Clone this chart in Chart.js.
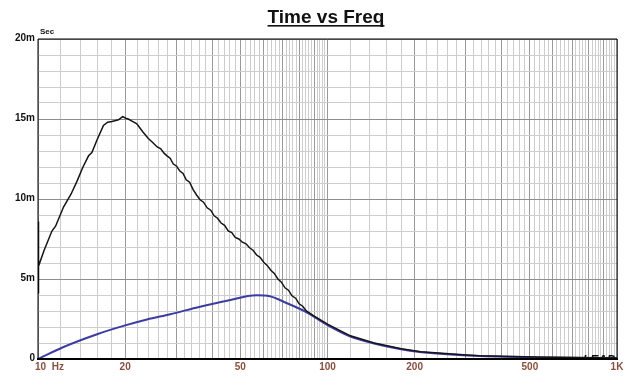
<!DOCTYPE html>
<html>
<head>
<meta charset="utf-8">
<script src="https://cdn.jsdelivr.net/npm/chart.js@4"></script>
<style>
  html, body { margin: 0; padding: 0; background: #fff; }
  #wrap { width: 644px; height: 387px; }
</style>
</head>
<body>
<div id="wrap"><canvas id="grafico" width="644" height="387"></canvas></div>
<script>
// time in ms (labels are "m" = milliseconds)
const freqBlack = [10, 10.02, 10.06, 10.5, 11.17, 11.5, 12.25, 13.0, 13.63, 14.3, 14.95, 15.35, 16.0, 16.83, 17.4, 18.0, 18.97, 19.6, 20.1, 20.5, 21.2, 21.95, 23.0, 24.0,
  25, 25.8, 26.5, 27.3, 27.9, 28.6, 29.3, 30.1, 30.9, 31.7, 32.5, 33.4, 34.3, 35.3, 36.3, 37.3, 38.4, 39.5, 40.6, 41.7, 42.9, 44.1, 45.4, 46.7, 48.0, 49.4, 50.8, 52.3, 53.8, 55.3, 56.9, 58.5,
  60.2, 61.9, 63.7, 65.5, 67.4, 69.3, 71.3, 73.3, 75.4, 77.6, 79.8, 82.1, 84.5, 90, 100, 120, 145, 180, 210, 330, 530, 1000];
const timeBlack = [8.6, 4.1, 5.8, 6.8, 8.0, 8.3, 9.5, 10.3, 11.1, 12.0, 12.7, 12.9, 13.7, 14.6, 14.8, 14.85, 14.95, 15.15, 15.05, 15.0, 14.85, 14.7, 14.2, 13.8,
  13.5, 13.25, 13.15, 12.85, 12.7, 12.55, 12.2, 12.05, 11.75, 11.6, 11.2, 11.05, 10.6, 10.25, 9.95, 9.8, 9.45, 9.3, 8.95, 8.8, 8.5, 8.35, 8.0, 7.9, 7.6, 7.5, 7.3, 7.2, 6.95, 6.8, 6.5, 6.35,
  6.05, 5.85, 5.55, 5.35, 5.0, 4.8, 4.45, 4.3, 3.95, 3.8, 3.45, 3.3, 3.0, 2.68, 2.18, 1.45, 1.0, 0.64, 0.46, 0.21, 0.12, 0.06];

const freqBlue = [10, 12.25, 16, 20, 23.8, 28.6, 36.3, 44.9, 56.9, 63.2, 72.2, 84.7, 99.3, 119.4, 143.6, 177.6, 208, 326, 526, 1000];
const timeBlue = [0, 0.75, 1.55, 2.1, 2.47, 2.8, 3.27, 3.64, 3.98, 3.92, 3.5, 2.92, 2.15, 1.42, 0.98, 0.62, 0.44, 0.2, 0.1, 0.04];

const xTickValues = [10, 20, 50, 100, 200, 500, 1000];
const xTickLabels = ["10  Hz", "20", "50", "100", "200", "500", "1K"];
const yTickValues = [0, 5, 10, 15, 20];
const yTickLabels = ["0", "5m", "10m", "15m", "20m"];

const FONT = "'Liberation Sans Narrow', 'Liberation Sans', Arial, sans-serif";

// grid positions: every 2 Hz up to 100, every 20 Hz up to 1K
const gradeX = [];
for (let f = 10; f <= 100; f += 2) gradeX.push(f);
for (let f = 120; f <= 1000; f += 20) gradeX.push(f);

function ehMaior(v) {
  const dec = Math.pow(10, Math.floor(Math.log10(v) + 1e-9));
  return Math.abs(v / dec - Math.round(v / dec)) < 1e-6;
}

const pontos = (xs, ys) => xs.map((x, i) => ({ x: x, y: ys[i] }));

const extras = {
  id: "extras",
  beforeDatasetsDraw(chart) {
    const { ctx, chartArea: a } = chart;
    // LEAP logo, cut off by the axis
    ctx.save();
    ctx.beginPath();
    ctx.rect(a.left, a.top, a.right - a.left, a.bottom - a.top);
    ctx.clip();
    ctx.fillStyle = "#111";
    ctx.font = "italic bold 12px 'Liberation Sans', Arial, sans-serif";
    ctx.textAlign = "right";
    ctx.textBaseline = "alphabetic";
    ctx.fillText("LEAP", a.right - 2, a.bottom + 5);
    ctx.restore();
  },
  afterDraw(chart) {
    const { ctx, chartArea: a, scales } = chart;
    ctx.save();
    // frame
    ctx.strokeStyle = "#000";
    ctx.lineWidth = 1;
    ctx.beginPath();
    ctx.moveTo(a.left, a.bottom);
    ctx.lineTo(a.left, a.top);
    ctx.lineTo(a.right, a.top);
    ctx.lineTo(a.right, a.bottom);
    ctx.stroke();
    ctx.lineWidth = 2;
    ctx.beginPath();
    ctx.moveTo(a.left - 1, a.bottom);
    ctx.lineTo(a.right + 1, a.bottom);
    ctx.stroke();

    // title
    ctx.fillStyle = "#111";
    ctx.font = "bold 19px 'Liberation Sans', Arial, sans-serif";
    ctx.textAlign = "center";
    ctx.textBaseline = "alphabetic";
    const titulo = "Time vs Freq";
    ctx.fillText(titulo, 326, 23);
    const w = ctx.measureText(titulo).width;
    ctx.fillRect(326 - w / 2, 25, w, 1.6);

    // "Sec"
    ctx.font = "bold 8px " + FONT;
    ctx.textAlign = "left";
    ctx.fillText("Sec", a.left + 2, 34);

    // y labels
    ctx.font = "bold 10px " + FONT;
    ctx.textAlign = "right";
    ctx.textBaseline = "middle";
    yTickValues.forEach((v, i) => {
      ctx.fillText(yTickLabels[i], a.left - 3, scales.y.getPixelForValue(v) - 1);
    });

    // x labels
    ctx.fillStyle = "#8a4e3e";
    ctx.textBaseline = "top";
    xTickValues.forEach((v, i) => {
      const px = scales.x.getPixelForValue(v);
      if (i === 0) {
        ctx.textAlign = "left";
        ctx.fillText(xTickLabels[i], px - 3, a.bottom + 3);
      } else {
        ctx.textAlign = "center";
        ctx.fillText(xTickLabels[i], px, a.bottom + 3);
      }
    });
    ctx.restore();
  },
};

const ctx = document.getElementById("grafico").getContext("2d");

new Chart(ctx, {
  type: "line",
  data: {
    datasets: [
      {
        label: "Group delay",
        data: pontos(freqBlack, timeBlack),
        borderColor: "#151515",
        borderWidth: 1.5,
        pointRadius: 0,
        tension: 0,
        fill: false,
      },
      {
        label: "Min phase",
        data: pontos(freqBlue, timeBlue),
        borderColor: "#3c3ca4",
        borderWidth: 2,
        pointRadius: 0,
        cubicInterpolationMode: "monotone",
        fill: false,
      },
    ],
  },
  options: {
    responsive: false,
    animation: false,
    layout: { padding: { left: 38, right: 27, top: 39, bottom: 28 } },
    plugins: {
      legend: { display: false },
      tooltip: { enabled: false },
    },
    scales: {
      x: {
        type: "logarithmic",
        min: 10,
        max: 1000,
        afterBuildTicks: (scale) => {
          scale.ticks = gradeX.map((v) => ({ value: v }));
        },
        ticks: { display: false },
        grid: {
          drawTicks: false,
          lineWidth: 1,
          color: (c) => (c.tick && ehMaior(c.tick.value) ? "#9a9a9a" : "#cdcdcd"),
        },
        border: { display: false },
      },
      y: {
        type: "linear",
        min: 0,
        max: 20,
        ticks: { display: false, stepSize: 1 },
        grid: {
          drawTicks: false,
          lineWidth: 1,
          color: (c) => (c.tick && c.tick.value % 5 === 0 ? "#8e8e8e" : "#cdcdcd"),
        },
        border: { display: false },
      },
    },
  },
  plugins: [extras],
});
</script>
</body>
</html>
